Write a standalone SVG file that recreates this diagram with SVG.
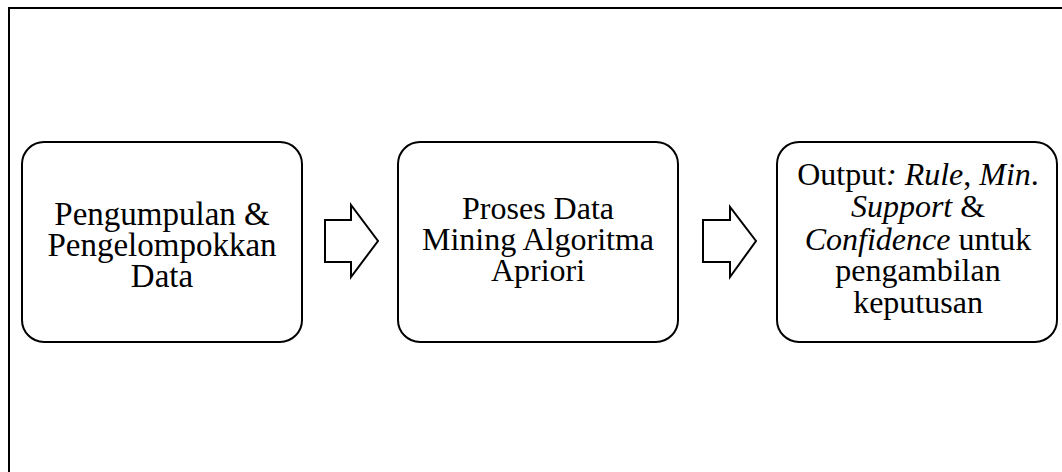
<svg xmlns="http://www.w3.org/2000/svg" width="1062" height="472" viewBox="0 0 1062 472">
  <style>
    .frame { fill: none; stroke: #000; stroke-width: 2; }
    .box { fill: #fff; stroke: #000; stroke-width: 2; }
    .arrow { fill: #fff; stroke: #000; stroke-width: 2; stroke-linejoin: miter; }
    .label { font-family: 'Liberation Serif', 'DejaVu Serif', serif; font-size: 32px; fill: #000; text-anchor: middle; }
    .big { font-size: 33px; }
    .it { font-style: italic; }
  </style>
  <rect width="1062" height="472" fill="#fff"/>
  <!-- outer frame, open to the right and bottom -->
  <rect class="frame" x="9" y="8" width="1070" height="480"/>

  <g id="node-pengumpulan">
    <rect class="box" x="22" y="142" width="280" height="200" rx="22" ry="22"/>
    <text class="label big" x="162" y="225">Pengumpulan &amp;</text>
    <text class="label big" x="162" y="256">Pengelompokkan</text>
    <text class="label big" x="162" y="287">Data</text>
  </g>

  <g id="node-proses">
    <rect class="box" x="398" y="142" width="280" height="200" rx="22" ry="22"/>
    <text class="label" x="538" y="219">Proses Data</text>
    <text class="label" x="538" y="250">Mining Algoritma</text>
    <text class="label" x="538" y="281">Apriori</text>
  </g>

  <g id="node-output">
    <rect class="box" x="777" y="142" width="280" height="200" rx="22" ry="22"/>
    <text class="label" x="918" y="185">Output<tspan class="it">: Rule</tspan>, <tspan class="it">Min</tspan>.</text>
    <text class="label" x="918" y="217"><tspan class="it">Support</tspan> &amp;</text>
    <text class="label" x="918" y="250"><tspan class="it">Confidence</tspan> untuk</text>
    <text class="label" x="918" y="281">pengambilan</text>
    <text class="label" x="918" y="313">keputusan</text>
  </g>

  <g id="connectors">
    <polygon class="arrow" points="325,220 351,220 351,205 378,241 351,277 351,262 325,262"/>
    <polygon class="arrow" points="703,220 730,220 730,207 756,241 730,277 730,262 703,262"/>
  </g>
</svg>
